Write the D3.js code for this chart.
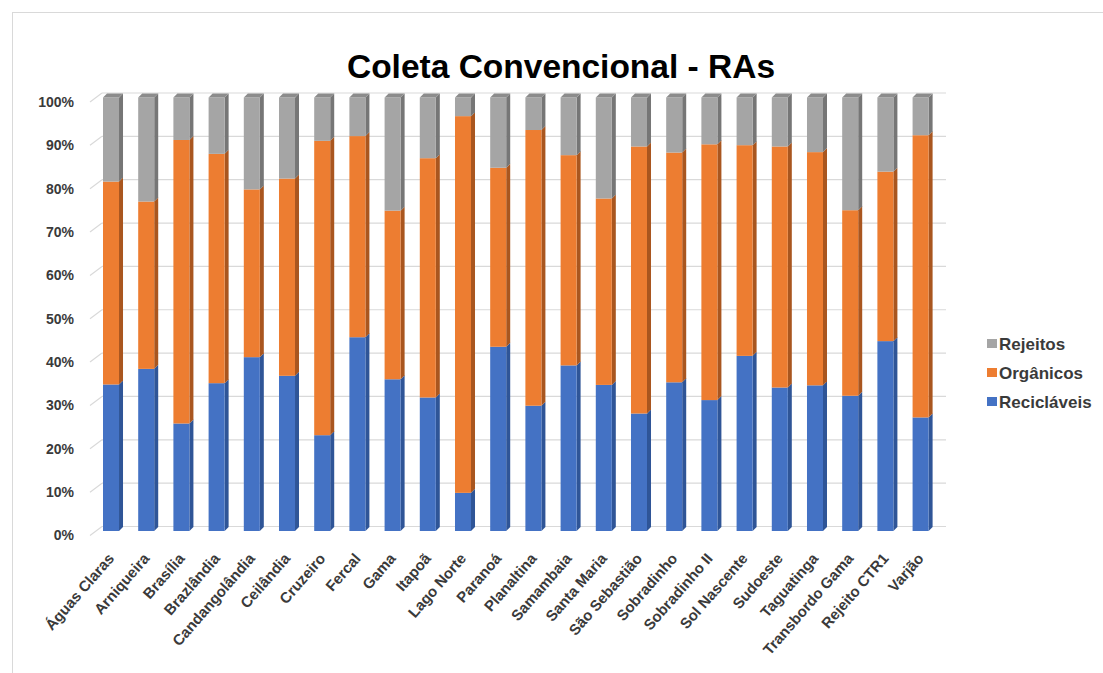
<!DOCTYPE html>
<html>
<head>
<meta charset="utf-8">
<script src="https://cdn.jsdelivr.net/npm/d3@7"></script>
<style>
  html, body { margin: 0; padding: 0; background: #fff; }
  svg { display: block; font-family: "Liberation Sans", Arial, sans-serif; }
</style>
</head>
<body>
<svg id="chart" width="1103" height="673"></svg>
<script>
// Regiões administrativas (eixo X)
const categories = [
  "Águas Claras", "Arniqueira", "Brasília", "Brazlândia", "Candangolândia",
  "Ceilândia", "Cruzeiro", "Fercal", "Gama", "Itapoã", "Lago Norte",
  "Paranoá", "Planaltina", "Samambaia", "Santa Maria", "São Sebastião",
  "Sobradinho", "Sobradinho II", "Sol Nascente", "Sudoeste", "Taguatinga",
  "Transbordo Gama", "Rejeito CTR1", "Varjão"
];

// Participação (%) de cada fração na coleta convencional
const reciclaveis = [33.8, 37.4, 24.8, 34.1, 40.1, 35.8, 22.1, 44.7, 35.0, 30.8, 8.8, 42.5,
                     28.9, 38.2, 33.7, 27.1, 34.3, 30.2, 40.4, 33.1, 33.6, 31.2, 43.8, 26.2];
const organicos   = [46.8, 38.6, 65.4, 52.9, 38.7, 45.5, 67.9, 46.4, 38.9, 55.2, 86.9, 41.3,
                     63.6, 48.5, 43.0, 61.6, 53.0, 59.0, 48.6, 55.6, 53.8, 42.8, 39.1, 65.1];
const rejeitos    = [19.4, 24.0, 9.8, 13.0, 21.2, 18.7, 10.0, 8.9, 26.1, 14.0, 4.3, 16.2,
                     7.5, 13.3, 23.3, 11.3, 12.7, 10.8, 11.0, 11.3, 12.6, 26.0, 17.1, 8.7];

const seriesNames = ["Recicláveis", "Orgânicos", "Rejeitos"];
const yTicks = [0, 10, 20, 30, 40, 50, 60, 70, 80, 90, 100];

const colors = { "Recicláveis": "#4472C4", "Orgânicos": "#ED7D31", "Rejeitos": "#A5A5A5" };
const sideColors = { "Recicláveis": "#2F5597", "Orgânicos": "#A9561F", "Rejeitos": "#767676" };
const topColors = { "Recicláveis": "#3A63AE", "Orgânicos": "#C86A28", "Rejeitos": "#8C8C8C" };

const svg = d3.select("#chart");

// Moldura do gráfico
svg.append("rect")
  .attr("x", 12.5).attr("y", 12.5).attr("width", 1103).attr("height", 700)
  .attr("fill", "none").attr("stroke", "#d9d9d9").attr("stroke-width", 1);

// Título
svg.append("text")
  .attr("x", 561).attr("y", 78)
  .attr("text-anchor", "middle")
  .attr("font-size", 33.5).attr("font-weight", "bold").attr("fill", "#000")
  .text("Coleta Convencional - RAs");

// Escalas (face frontal das colunas)
const x = d3.scaleBand().domain(categories).range([85.4, 946.2])
  .paddingInner(0.545).paddingOuter(0.5);
const y = d3.scaleLinear().domain([0, 100]).range([531, 97.5]);

// Profundidade 3D
const depthX = 4, depthY = 4;          // lateral das colunas
const wallBackX = 102, wallFrontX = 90; // parede / piso
const backDy = -4.5, frontDy = 4.5;

// Linhas de grade (parede ao fundo + chanfro do piso)
const grid = svg.append("g");
yTicks.forEach(t => {
  const yb = y(t) + backDy, yf = y(t) + frontDy;
  grid.append("line")
    .attr("x1", wallBackX).attr("x2", 946).attr("y1", yb).attr("y2", yb)
    .attr("stroke", "#d9d9d9").attr("stroke-width", 1.2);
  grid.append("line")
    .attr("x1", wallFrontX).attr("x2", wallBackX).attr("y1", yf).attr("y2", yb)
    .attr("stroke", "#d9d9d9").attr("stroke-width", 1.2);
});

// Rótulos do eixo Y
const yAxis = d3.axisLeft(y).tickValues(yTicks).tickFormat(d => d + "%").tickSize(0).tickPadding(0);
const yg = svg.append("g").attr("transform", `translate(${wallFrontX - 16},${frontDy})`).call(yAxis);
yg.select(".domain").remove();
yg.selectAll("text")
  .attr("font-size", 14).attr("font-weight", "bold").attr("fill", "#3a3a3a")
  .attr("font-family", "'Liberation Sans', Arial, sans-serif");

// Dados empilhados
const rows = categories.map((c, i) => ({
  cat: c, "Recicláveis": reciclaveis[i], "Orgânicos": organicos[i], "Rejeitos": rejeitos[i]
}));
const stack = d3.stack().keys(seriesNames)(rows);

const bars = svg.append("g");
stack.forEach(layer => {
  const key = layer.key;
  layer.forEach(seg => {
    const x0 = x(seg.data.cat), w = x.bandwidth();
    const yTop = y(seg[1]), yBot = y(seg[0]);
    // face lateral
    bars.append("path")
      .attr("d", `M${x0 + w},${yBot} L${x0 + w + depthX},${yBot - depthY} L${x0 + w + depthX},${yTop - depthY} L${x0 + w},${yTop} Z`)
      .attr("fill", sideColors[key]);
    // face frontal
    bars.append("rect")
      .attr("x", x0).attr("y", yTop).attr("width", w).attr("height", yBot - yTop)
      .attr("fill", colors[key]);
    // topo da coluna
    if (key === "Rejeitos") {
      bars.append("path")
        .attr("d", `M${x0},${yTop} L${x0 + depthX},${yTop - depthY} L${x0 + w + depthX},${yTop - depthY} L${x0 + w},${yTop} Z`)
        .attr("fill", topColors[key]);
    }
  });
});

// Rótulos do eixo X (rotacionados)
const xg = svg.append("g");
categories.forEach(c => {
  const cx = x(c) + x.bandwidth() / 2 + 4;
  xg.append("text")
    .attr("transform", `translate(${cx},${559}) rotate(-49)`)
    .attr("text-anchor", "end")
    .attr("font-size", 15).attr("font-weight", "bold").attr("fill", "#3a3a3a")
    .text(c);
});

// Legenda
const legendItems = ["Rejeitos", "Orgânicos", "Recicláveis"];
const lg = svg.append("g");
legendItems.forEach((k, i) => {
  const ly = 344 + i * 29;
  lg.append("rect").attr("x", 987).attr("y", ly - 5).attr("width", 10).attr("height", 9).attr("fill", colors[k]);
  lg.append("text").attr("x", 999).attr("y", ly + 6)
    .attr("font-size", 17).attr("font-weight", "bold").attr("fill", "#3a3a3a")
    .text(k);
});
</script>
</body>
</html>
